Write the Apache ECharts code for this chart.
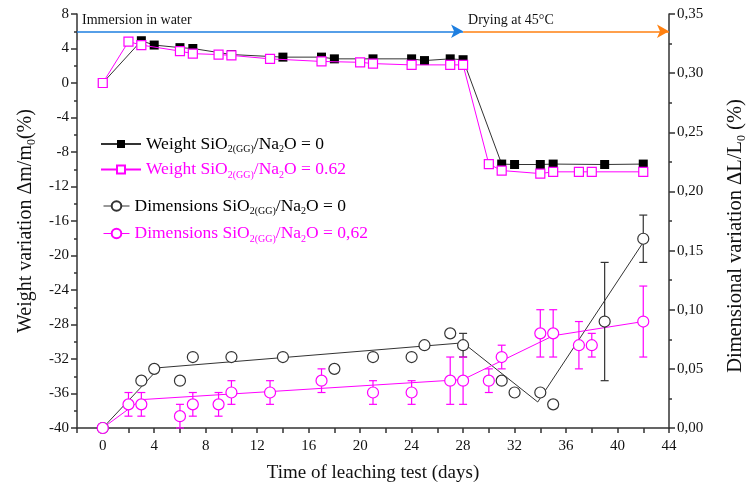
<!DOCTYPE html>
<html>
<head>
<meta charset="utf-8">
<script src="https://cdn.jsdelivr.net/npm/echarts@6/dist/echarts.min.js"></script>
<style>html,body{margin:0;padding:0;background:#fff}#c{width:748px;height:485px}</style>
</head>
<body>
<div id="c"></div>
<script>
// ---- data ----
const daysW0 = [0,3,4,6,7,10,14,17,18,21,24,25,27,28,31,32,34,35,39,42];
const weightW0 = [0,4.9,4.4,4.1,4.0,3.3,3.0,3.0,2.8,2.8,2.8,2.6,2.8,2.7,-9.4,-9.45,-9.45,-9.4,-9.45,-9.4];
const daysW62 = [0,2,3,6,7,9,10,13,17,20,21,24,27,28,30,31,34,35,37,38,42];
const weightW62 = [0,4.8,4.4,3.7,3.4,3.3,3.2,2.8,2.5,2.4,2.25,2.1,2.1,2.1,-9.4,-10.15,-10.5,-10.3,-10.3,-10.3,-10.3];
const daysD0 = [0,3,4,6,7,10,14,18,21,24,25,27,28,31,32,34,35,39,42];
const dimD0 = [0,0.04,0.05,0.04,0.06,0.06,0.06,0.05,0.06,0.06,0.07,0.08,0.07,0.04,0.03,0.03,0.02,0.09,0.16];
const errD0 = [0,0,0,0,0,0,0,0,0,0,0,0,0.01,0,0,0,0,0.05,0.02];
const daysD62 = [0,2,3,6,7,9,10,13,17,21,24,27,28,30,31,34,35,37,38,42];
const dimD62 = [0,0.02,0.02,0.01,0.02,0.02,0.03,0.03,0.04,0.03,0.03,0.04,0.04,0.04,0.06,0.08,0.08,0.07,0.07,0.09];
const errD62 = [0,0.01,0.01,0.01,0.01,0.01,0.01,0.01,0.01,0.01,0.01,0.02,0.02,0.01,0.01,0.02,0.02,0.02,0.01,0.03];
const trendDays0 = [0,4.4,28,33.8,42];
const trend0 = [0,0.051,0.072,0.022,0.157];
const trendDays62 = [0,3,28,35,42];
const trend62 = [0,0.024,0.041,0.078,0.090];
const xTickLabels = [0,4,8,12,16,20,24,28,32,36,40,44];
const phaseStart = [-2, 28];
const phaseEnd = [28, 44];
const phaseLevel = 6;
const phaseNames = ['Immersion in water', 'Drying at 45°C'];

const FONT = '"Liberation Serif", "Times New Roman", serif';
const PINK = '#ff00ff';
const BLACK = '#000000';
const NAMES = {
  w0: 'Weight SiO2(GG)/Na2O = 0',
  w62: 'Weight SiO2(GG)/Na2O = 0.62',
  d0: 'Dimensions SiO2(GG)/Na2O = 0',
  d62: 'Dimensions SiO2(GG)/Na2O = 0,62'
};
const LEGEND_RICH = {
  [NAMES.w0]: '{a|Weight SiO}{s|2(GG)}{a|/Na}{s|2}{a|O = 0}',
  [NAMES.w62]: '{pa|Weight SiO}{ps|2(GG)}{pa|/Na}{ps|2}{pa|O = 0.62}',
  [NAMES.d0]: '{a|Dimensions SiO}{s|2(GG)}{a|/Na}{s|2}{a|O = 0}',
  [NAMES.d62]: '{pa|Dimensions SiO}{ps|2(GG)}{pa|/Na}{ps|2}{pa|O = 0,62}'
};
const rich = {
  a: {fontFamily: FONT, fontSize: 17.5, color: BLACK},
  s: {fontFamily: FONT, fontSize: 10, color: BLACK, padding: [11,0,0,0]},
  pa: {fontFamily: FONT, fontSize: 17.5, color: PINK},
  ps: {fontFamily: FONT, fontSize: 10, color: PINK, padding: [11,0,0,0]}
};

const zip = (xs, ys) => xs.map((x, i) => [x, ys[i]]);
const errData = (xs, ys, es) => xs.map((x, i) => [x, ys[i] - es[i], ys[i] + es[i]]).filter((d, i) => es[i] > 0);

function errRender(color) {
  return function (params, api) {
    const x = api.value(0);
    const lo = api.coord([x, api.value(1)]);
    const hi = api.coord([x, api.value(2)]);
    const w = 4;
    const style = {stroke: color, lineWidth: 1.2};
    return {
      type: 'group',
      children: [
        {type: 'line', shape: {x1: lo[0], y1: lo[1], x2: hi[0], y2: hi[1]}, style},
        {type: 'line', shape: {x1: lo[0]-w, y1: lo[1], x2: lo[0]+w, y2: lo[1]}, style},
        {type: 'line', shape: {x1: hi[0]-w, y1: hi[1], x2: hi[0]+w, y2: hi[1]}, style}
      ]
    };
  };
}

const axisLineStyle = {color: '#333', width: 1.5};
const labelStyle = {fontFamily: FONT, fontSize: 15, color: '#111'};

const chart = echarts.init(document.getElementById('c'), null, {renderer: 'canvas'});
chart.setOption({
  animation: false,
  backgroundColor: '#fff',
  grid: {left: 77, right: 79, top: 14, bottom: 57, containLabel: false, outerBoundsMode: 'none'},
  legend: [
    {
      orient: 'vertical', left: 95, top: 130, itemGap: 6,
      itemWidth: 40, itemHeight: 10,
      data: [NAMES.w0, NAMES.w62],
      formatter: n => LEGEND_RICH[n],
      textStyle: {rich}
    },
    {
      orient: 'vertical', left: 98, top: 192, itemGap: 8,
      itemWidth: 26, itemHeight: 12,
      data: [
        {name: NAMES.d0, lineStyle: {opacity: 1, width: 1, color: '#333'}},
        {name: NAMES.d62, lineStyle: {opacity: 1, width: 1, color: PINK}}
      ],
      formatter: n => LEGEND_RICH[n],
      textStyle: {rich}
    }
  ],
  xAxis: {
    type: 'value', min: -2, max: 44, interval: 2,
    name: 'Time of leaching test (days)', nameLocation: 'middle', nameGap: 36,
    nameTextStyle: {fontFamily: FONT, fontSize: 19, color: '#111'},
    axisLine: {onZero: false, lineStyle: axisLineStyle},
    axisTick: {length: 5, lineStyle: axisLineStyle},
    axisLabel: Object.assign({}, labelStyle, {
      margin: 11,
      formatter: v => xTickLabels.indexOf(v) >= 0 ? String(v) : ''
    }),
    splitLine: {show: false}
  },
  yAxis: [
    {
      type: 'value', min: -40, max: 8, interval: 4, position: 'left',
      name: 'Weight variation Δm/m{s|0}(%)', nameLocation: 'middle', nameGap: 36, nameRotate: 90,
      nameTextStyle: {fontFamily: FONT, fontSize: 20, color: '#111', rich: {
        s: {fontFamily: FONT, fontSize: 12, color: '#111', padding: [12,0,0,0]}
      }},
      axisLine: {show: true, onZero: false, lineStyle: axisLineStyle},
      axisTick: {show: true, length: 6, lineStyle: axisLineStyle},
      minorTick: {show: true, splitNumber: 2, length: 3, lineStyle: axisLineStyle},
      axisLabel: labelStyle,
      splitLine: {show: false}
    },
    {
      type: 'value', min: 0, max: 0.35, interval: 0.05, position: 'right',
      name: 'Dimensional variation ΔL/L{s|0} (%)', nameLocation: 'middle', nameGap: 55, nameRotate: 90,
      nameTextStyle: {fontFamily: FONT, fontSize: 20.5, color: '#111', padding: [0, 30, 0, 0], rich: {
        s: {fontFamily: FONT, fontSize: 12, color: '#111', padding: [12,0,0,0]}
      }},
      axisLine: {show: true, onZero: false, lineStyle: axisLineStyle},
      axisTick: {show: true, length: 6, lineStyle: axisLineStyle},
      minorTick: {show: true, splitNumber: 2, length: 3, lineStyle: axisLineStyle},
      axisLabel: Object.assign({}, labelStyle, {formatter: v => v.toFixed(2).replace('.', ',')}),
      splitLine: {show: false}
    }
  ],
  series: [
    {
      name: 'phases', type: 'line', yAxisIndex: 0, data: [], silent: true,
      markLine: {
        silent: true, symbol: ['none', 'arrow'], symbolSize: [10, 12], animation: false,
        data: phaseStart.map((s, i) => [
          {coord: [s, phaseLevel], lineStyle: {color: i === 0 ? '#1e7fe0' : '#ff8010', width: 1.5, type: 'solid'},
           itemStyle: {color: i === 0 ? '#1e7fe0' : '#ff8010'},
           label: {show: true, position: 'insideStartTop', formatter: phaseNames[i], fontFamily: FONT, fontSize: 14, color: '#111', distance: [5, 4]}},
          {coord: [phaseEnd[i], phaseLevel]}
        ])
      }
    },
    {
      name: NAMES.w0, type: 'line', yAxisIndex: 0, data: zip(daysW0, weightW0),
      symbol: 'rect', symbolSize: 9, showAllSymbol: true,
      lineStyle: {color: '#333', width: 1}, itemStyle: {color: BLACK}, z: 3
    },
    {
      name: NAMES.w62, type: 'line', yAxisIndex: 0, data: zip(daysW62, weightW62),
      symbol: 'rect', symbolSize: 9, showAllSymbol: true,
      lineStyle: {color: PINK, width: 1}, itemStyle: {color: '#fff', borderColor: PINK, borderWidth: 1.2}, z: 4
    },
    {
      name: 'trend0', type: 'line', yAxisIndex: 1, data: zip(trendDays0, trend0),
      symbol: 'none', lineStyle: {color: '#333', width: 1}, z: 2
    },
    {
      name: 'trend62', type: 'line', yAxisIndex: 1, data: zip(trendDays62, trend62),
      symbol: 'none', lineStyle: {color: PINK, width: 1}, z: 2
    },
    {
      name: 'err0', type: 'custom', yAxisIndex: 1, data: errData(daysD0, dimD0, errD0),
      renderItem: errRender('#333'), z: 3
    },
    {
      name: 'err62', type: 'custom', yAxisIndex: 1, data: errData(daysD62, dimD62, errD62),
      renderItem: errRender(PINK), z: 3
    },
    {
      name: NAMES.d0, type: 'line', yAxisIndex: 1, data: zip(daysD0, dimD0),
      symbol: 'circle', symbolSize: 11, showAllSymbol: true,
      lineStyle: {opacity: 0}, itemStyle: {color: '#fff', borderColor: '#333', borderWidth: 1.2}, z: 5
    },
    {
      name: NAMES.d62, type: 'line', yAxisIndex: 1, data: zip(daysD62, dimD62),
      symbol: 'circle', symbolSize: 11, showAllSymbol: true,
      lineStyle: {opacity: 0}, itemStyle: {color: '#fff', borderColor: PINK, borderWidth: 1.2}, z: 5
    }
  ]
});
</script>
</body>
</html>
